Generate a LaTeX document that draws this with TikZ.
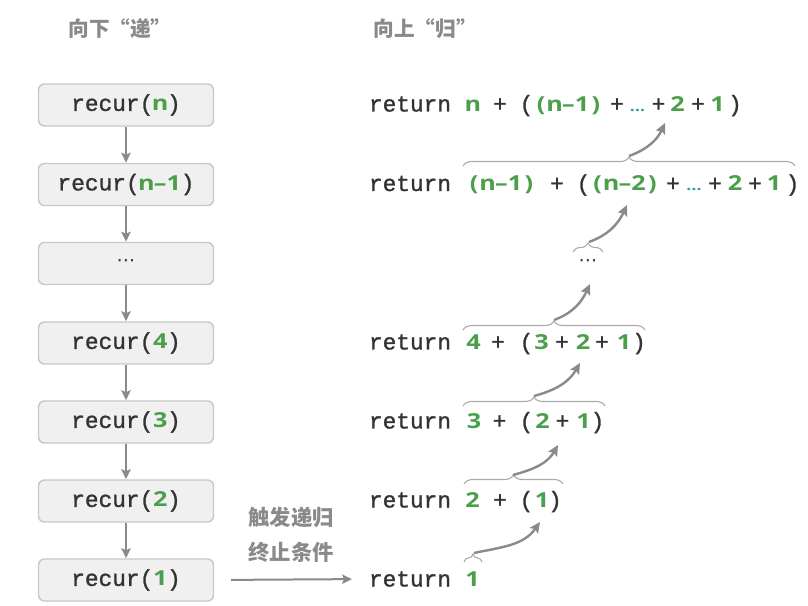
\documentclass[tikz,border=0pt]{standalone}
\usepackage{fontspec}
\usetikzlibrary{arrows.meta,decorations.pathreplacing}
\newfontfamily\cjk{Noto Sans CJK SC}
\newfontfamily\monof{Liberation Mono}[FakeBold=1.2]
\newfontfamily\gfont{Open Sans}[FakeStretch=1.22]
\newfontfamily\dvs{DejaVu Sans}
\definecolor{cg}{HTML}{4A9F4A}
\definecolor{ct}{HTML}{3A9AA6}
\definecolor{ck}{HTML}{333333}
\definecolor{gr}{HTML}{8A8A8A}
\definecolor{bxf}{HTML}{F0F0F0}
\definecolor{bxd}{HTML}{C8C8C8}
\definecolor{brcol}{HTML}{ABABAB}
\newcommand\M[1]{{\color{ck}\monof\fontsize{17.1}{20}\selectfont #1}}
\makeatletter
\newcommand\G[1]{{\color{cg}\gfont\bfseries\fontsize{15.5}{18}\selectfont\@tfor\gch:=#1\do{\makebox[10.28pt][c]{\gch}}}}
\makeatother
\newcommand\E{{\color{ct}\gfont\bfseries\fontsize{11}{12}\selectfont …}}
\newcommand\D{{\color{ck}\dvs\fontsize{14}{16}\selectfont ⋯}}
\newcommand\T[4]{\node[tk] (#1) at (#2,#3) {#4};}
\begin{document}
\begin{tikzpicture}[x=0.75pt,y=-0.75pt,
  box/.style={draw=bxd,fill=bxf,line width=1.1pt,rounded corners=4.5pt,minimum width=131.25pt,minimum height=31.5pt,inner sep=0pt},
  tk/.style={anchor=base,inner sep=0pt,outer sep=0pt},
  varr/.style={draw=gr,line width=1.5pt,-{Stealth[length=7.5pt,width=7pt,inset=1.5pt]}},
  carr/.style={draw=gr,line width=1.8pt,-{Stealth[length=8pt,width=7.5pt,inset=1.5pt]}},
  brc/.style={draw=brcol,line width=0.8pt,decorate,decoration={brace,amplitude=6.75pt}},
  hd/.style={text=gr,font=\cjk\bfseries\fontsize{15.5}{18}\selectfont,inner sep=0pt},
  lb/.style={text=gr,font=\cjk\bfseries\fontsize{16}{26}\selectfont,inner sep=0pt,align=center},
]
\fill[white] (0,0) rectangle (808,606);
\useasboundingbox (0,0) rectangle (808,606);

% headers
\node[hd] (h1) at (120,29) {向下“递”};
\node[hd] (h2) at (425,29) {向上“归”};

% left boxes
\node[box] (b1) at (126,105) {\M{recur(}\G{n}\M{)}};
\node[box] (b2) at (126,184.5) {\M{recur(}\G{n–1}\M{)}};
\node[box] (b3) at (126,263.5) {\D};
\node[box] (b4) at (126,343) {\M{recur(}\G{4}\M{)}};
\node[box] (b5) at (126,422) {\M{recur(}\G{3}\M{)}};
\node[box] (b6) at (126,501) {\M{recur(}\G{2}\M{)}};
\node[box] (b7) at (126,580) {\M{recur(}\G{1}\M{)}};
\draw[varr] (b1) -- (b2);
\draw[varr] (b2) -- (b3);
\draw[varr] (b3) -- (b4);
\draw[varr] (b4) -- (b5);
\draw[varr] (b5) -- (b6);
\draw[varr] (b6) -- (b7);

% right lines
\node[tk,anchor=base west] (r1) at (369,111.5) {\M{return}};
\T{l1a}{473}{111.5}{\G{n}}
\T{l1b}{500}{111.5}{\M{+}}
\T{l1c}{526.5}{111.5}{\M{(}}
\T{l1d}{568.5}{111.5}{\G{(n–1)}}
\T{l1e}{617}{111.5}{\M{+}}
\T{l1f}{637.5}{111.5}{\E}
\T{l1g}{658.5}{111.5}{\M{+}}
\T{l1h}{677.5}{111.5}{\G{2}}
\T{l1i}{698}{111.5}{\M{+}}
\T{l1j}{717.5}{111.5}{\G{1}}
\T{l1k}{735}{111.5}{\M{)}}

\node[tk,anchor=base west] (r2) at (369,191) {\M{return}};
\T{l2a}{501.5}{191}{\G{(n–1)}}
\T{l2b}{557}{191}{\M{+}}
\T{l2c}{583.5}{191}{\M{(}}
\T{l2d}{625}{191}{\G{(n–2)}}
\T{l2e}{673}{191}{\M{+}}
\T{l2f}{694}{191}{\E}
\T{l2g}{715}{191}{\M{+}}
\T{l2h}{735}{191}{\G{2}}
\T{l2i}{755}{191}{\M{+}}
\T{l2j}{774}{191}{\G{1}}
\T{l2k}{792.5}{191}{\M{)}}

\node[inner sep=0pt] (r3) at (588,263) {\D};

\node[tk,anchor=base west] (r4) at (369,349.5) {\M{return}};
\T{l4a}{473.5}{349.5}{\G{4}}
\T{l4b}{498}{349.5}{\M{+}}
\T{l4c}{526.5}{349.5}{\M{(}}
\T{l4d}{541.5}{349.5}{\G{3}}
\T{l4e}{562}{349.5}{\M{+}}
\T{l4f}{583}{349.5}{\G{2}}
\T{l4g}{602}{349.5}{\M{+}}
\T{l4h}{624}{349.5}{\G{1}}
\T{l4i}{639}{349.5}{\M{)}}

\node[tk,anchor=base west] (r5) at (369,428.5) {\M{return}};
\T{l5a}{474}{428.5}{\G{3}}
\T{l5b}{499.5}{428.5}{\M{+}}
\T{l5c}{526.5}{428.5}{\M{(}}
\T{l5d}{542.5}{428.5}{\G{2}}
\T{l5e}{562.5}{428.5}{\M{+}}
\T{l5f}{583.5}{428.5}{\G{1}}
\T{l5g}{597.5}{428.5}{\M{)}}

\node[tk,anchor=base west] (r6) at (369,507.5) {\M{return}};
\T{l6a}{472.5}{507.5}{\G{2}}
\T{l6b}{500}{507.5}{\M{+}}
\T{l6c}{526.5}{507.5}{\M{(}}
\T{l6d}{542}{507.5}{\G{1}}
\T{l6e}{555}{507.5}{\M{)}}

\node[tk,anchor=base west] (r7) at (369,586.5) {\M{return}};
\T{l7a}{472.5}{586.5}{\G{1}}

% braces
\draw[brc] (463,166) -- (795,166);
\draw[brc] (573,252) -- (603,252);
\draw[brc] (463,330) -- (645,330);
\draw[brc] (463,406) -- (605,406);
\draw[brc] (464,484) -- (563,484);
\draw[brc,decoration={brace,amplitude=6pt}] (464,562) -- (482,562);

% curved arrows
\coordinate (s1) at (629,156); \coordinate (e1) at (665,123);
\coordinate (s2) at (589,242); \coordinate (e2) at (627,205);
\coordinate (s3) at (554,320); \coordinate (e3) at (590,284);
\coordinate (s4) at (534,396); \coordinate (e4) at (580,363);
\coordinate (s5) at (513,475); \coordinate (e5) at (558,445);
\coordinate (s6) at (474,553); \coordinate (e6) at (540,522);
\draw[carr] (s1) to[out=20,in=245] (e1);
\draw[carr] (s2) to[out=20,in=245] (e2);
\draw[carr] (s3) to[out=20,in=245] (e3);
\draw[carr] (s4) to[out=15,in=240] (e4);
\draw[carr] (s5) to[out=15,in=240] (e5);
\draw[carr] (s6) to[out=12,in=235] (e6);

% base case arrow
\draw[varr,shorten <=12.75pt,shorten >=12.75pt] (b7.east) -- (r7.west);
\node[lb] (lab) at (291,535) {触发递归\\终止条件};
\end{tikzpicture}
\end{document}
